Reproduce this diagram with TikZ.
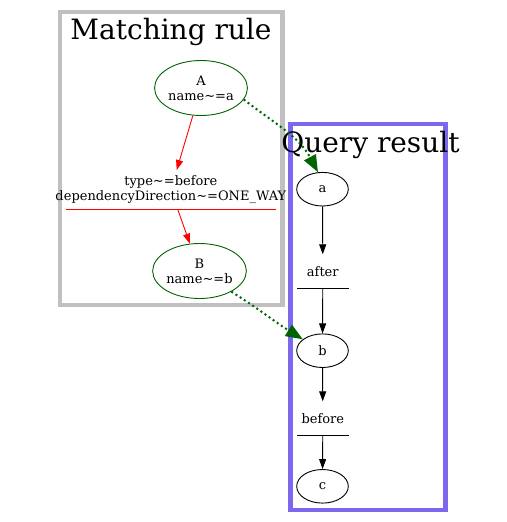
\documentclass[tikz,border=0pt]{standalone}
\usepackage{fontspec}
\setmainfont{DejaVu Serif}
\usetikzlibrary{shapes.geometric,arrows.meta}
\definecolor{dgreen}{RGB}{0,100,0}
\definecolor{silverc}{RGB}{192,192,192}
\definecolor{slatec}{RGB}{123,104,238}
\begin{document}
\begin{tikzpicture}[x=1pt,y=-1pt,
  nfont/.style={font=\fontsize{13}{15}\selectfont},
  ell/.style={ellipse, draw, line width=0.9pt, inner sep=0pt, nfont, align=center},
  ruleell/.style={ell, draw=dgreen, minimum width=91.5pt, minimum height=55pt},
  resell/.style={ell, draw=black, minimum width=51.6pt, minimum height=33.6pt},
  ulabel/.style={rectangle, inner sep=0pt, nfont, align=center},
  titlefont/.style={font=\fontsize{28}{30}\selectfont, anchor=base},
  redge/.style={draw=red, line width=0.9pt, -{Triangle[length=10pt,width=7pt]}},
  bedge/.style={draw=black, line width=0.9pt, -{Triangle[length=10pt,width=7pt]}},
  gedge/.style={draw=dgreen, line width=2pt, dash pattern=on 2pt off 3pt, -{Triangle[length=17pt,width=13pt]}},
  uline/.style={line width=1pt},
  clusterbox/.style={line width=4.5pt}]
\useasboundingbox (0,0) rectangle (506,522);
% clusters
\draw[clusterbox, draw=silverc] (60,12) rectangle (282.5,305);
\node[titlefont] (t1) at (171,39.3) {Matching rule};
% matching rule nodes
\node[ruleell] (A) at (201,88) {A\\name\textasciitilde=a};
\node[ulabel, minimum width=209.7pt, minimum height=39.3pt] (lab) at (170.85,189.85) {type\textasciitilde=before\\\makebox[0pt]{dependencyDirection\textasciitilde=ONE\_WAY}};
\draw[uline, draw=red] (lab.south west) -- (lab.south east);
\node[ruleell] (B) at (199.5,271) {B\\name\textasciitilde=b};
\draw[redge] (A) -- (lab);
\draw[redge] (lab) -- (B);
% query result
\draw[clusterbox, draw=slatec] (290.5,124) rectangle (445.5,510);
\node[titlefont] (t2) at (370.5,152.7) {Query result};
\node[resell] (a) at (322.5,189.2) {a};
\node[ulabel, minimum width=51pt, minimum height=34pt] (after) at (322.8,271.5) {after};
\draw[uline, draw=black] (after.south west) -- (after.south east);
\node[resell] (b) at (322.5,350.7) {b};
\node[ulabel, minimum width=51pt, minimum height=34pt] (before) at (322.8,418.5) {before};
\draw[uline, draw=black] (before.south west) -- (before.south east);
\node[resell] (c) at (322.5,486.3) {c};
\draw[bedge] (a) -- (after);
\draw[bedge] (after) -- (b);
\draw[bedge] (b) -- (before);
\draw[bedge] (before) -- (c);
% matching edges
\draw[gedge] (A.-15) to[out=-38,in=118] (a.105);
\draw[gedge] (B.-33) to[out=-32,in=148] (b.150);
\end{tikzpicture}
\end{document}
